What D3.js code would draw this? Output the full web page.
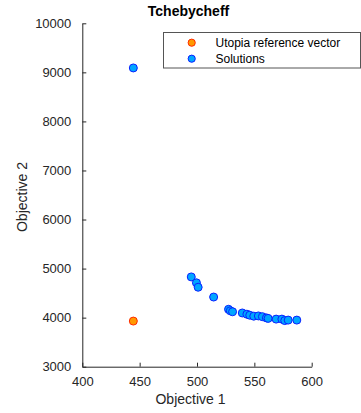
<!DOCTYPE html>
<html>
<head>
<meta charset="utf-8">
<script src="https://cdn.jsdelivr.net/npm/d3@7"></script>
<style>
  html, body { margin: 0; padding: 0; background: #fff; }
  svg { display: block; font-family: "Liberation Sans", Arial, Helvetica, sans-serif; }
</style>
</head>
<body>
<svg id="chart" width="361" height="413"></svg>
<script>
// Pareto solutions found by the Tchebycheff scalarisation
const solutionsObj1 = [444.5, 495, 499.5, 501, 514.5, 527.5, 529, 531, 539.5, 543.5, 546, 549.5, 553.5, 557, 560.5, 562, 569, 574, 576.5, 579.5, 587];
const solutionsObj2 = [9090, 4830, 4710, 4620, 4420, 4170, 4140, 4120, 4095, 4070, 4050, 4030, 4035, 4020, 3995, 3985, 3970, 3970, 3940, 3950, 3950];
// Utopia reference vector
const utopiaObj1 = [444.5];
const utopiaObj2 = [3930];
// Axis ticks
const xTicks = [400, 450, 500, 550, 600];
const yTicks = [3000, 4000, 5000, 6000, 7000, 8000, 9000, 10000];
const legendLabels = ["Utopia reference vector", "Solutions"];

const svg = d3.select("#chart");
const axisColor = "#262626";
const plotLeft = 82.3, plotRight = 311.7, plotTop = 23.3, plotBottom = 366.7;

const x = d3.scaleLinear().domain([400, 600]).range([plotLeft, plotRight]);
const y = d3.scaleLinear().domain([3000, 10000]).range([plotBottom, plotTop]);

// Axes with inward tick marks
const xAxis = svg.append("g").attr("transform", `translate(0,${plotBottom})`)
  .call(d3.axisBottom(x).tickValues(xTicks).tickFormat(d3.format("d"))
    .tickSizeInner(-4).tickSizeOuter(0).tickPadding(10));
const yAxis = svg.append("g").attr("transform", `translate(${plotLeft},0)`)
  .call(d3.axisLeft(y).tickValues(yTicks).tickFormat(d3.format("d"))
    .tickSizeInner(-4).tickSizeOuter(0).tickPadding(11));

[xAxis, yAxis].forEach(g => {
  g.select(".domain").attr("stroke", axisColor).attr("stroke-width", 1);
  g.selectAll(".tick line").attr("stroke", axisColor);
  g.selectAll(".tick text").attr("fill", axisColor).style("font-size", "13px")
    .style("font-family", "'Liberation Sans', Arial, sans-serif");
});

// Title and axis labels
svg.append("text").attr("x", 188.5).attr("y", 16).attr("text-anchor", "middle")
  .attr("fill", "#000").style("font-size", "14px").style("font-weight", "bold")
  .text("Tchebycheff");
svg.append("text").attr("x", 190.5).attr("y", 404).attr("text-anchor", "middle")
  .attr("fill", axisColor).style("font-size", "14px").text("Objective 1");
svg.append("text").attr("transform", "translate(26.5,197) rotate(-90)").attr("text-anchor", "middle")
  .attr("fill", axisColor).style("font-size", "14px").text("Objective 2");

// Data markers
const solutions = solutionsObj1.map((v, i) => ({ a: v, b: solutionsObj2[i] }));
const utopia = utopiaObj1.map((v, i) => ({ a: v, b: utopiaObj2[i] }));

svg.append("g").selectAll("circle").data(utopia).join("circle")
  .attr("cx", d => x(d.a)).attr("cy", d => y(d.b)).attr("r", 4)
  .attr("fill", "#ff9900").attr("stroke", "#ff2a00").attr("stroke-width", 1);

svg.append("g").selectAll("circle").data(solutions).join("circle")
  .attr("cx", d => x(d.a)).attr("cy", d => y(d.b)).attr("r", 4)
  .attr("fill", "#00a6ff").attr("stroke", "#0a1fff").attr("stroke-width", 1);

// Legend
const legend = svg.append("g");
legend.append("rect").attr("x", 163.5).attr("y", 32.5).attr("width", 197).attr("height", 35.5)
  .attr("fill", "#fff").attr("stroke", "#555").attr("stroke-width", 1);
const legendStyles = [
  { fill: "#ff9900", stroke: "#ff2a00" },
  { fill: "#00a6ff", stroke: "#0a1fff" }
];
legendLabels.forEach((label, i) => {
  const cy = 42.7 + i * 16;
  legend.append("circle").attr("cx", 191.7).attr("cy", cy).attr("r", 3.6)
    .attr("fill", legendStyles[i].fill).attr("stroke", legendStyles[i].stroke);
  legend.append("text").attr("x", 215.5).attr("y", cy + 4).attr("fill", "#000")
    .style("font-size", "12px").text(label);
});
</script>
</body>
</html>
